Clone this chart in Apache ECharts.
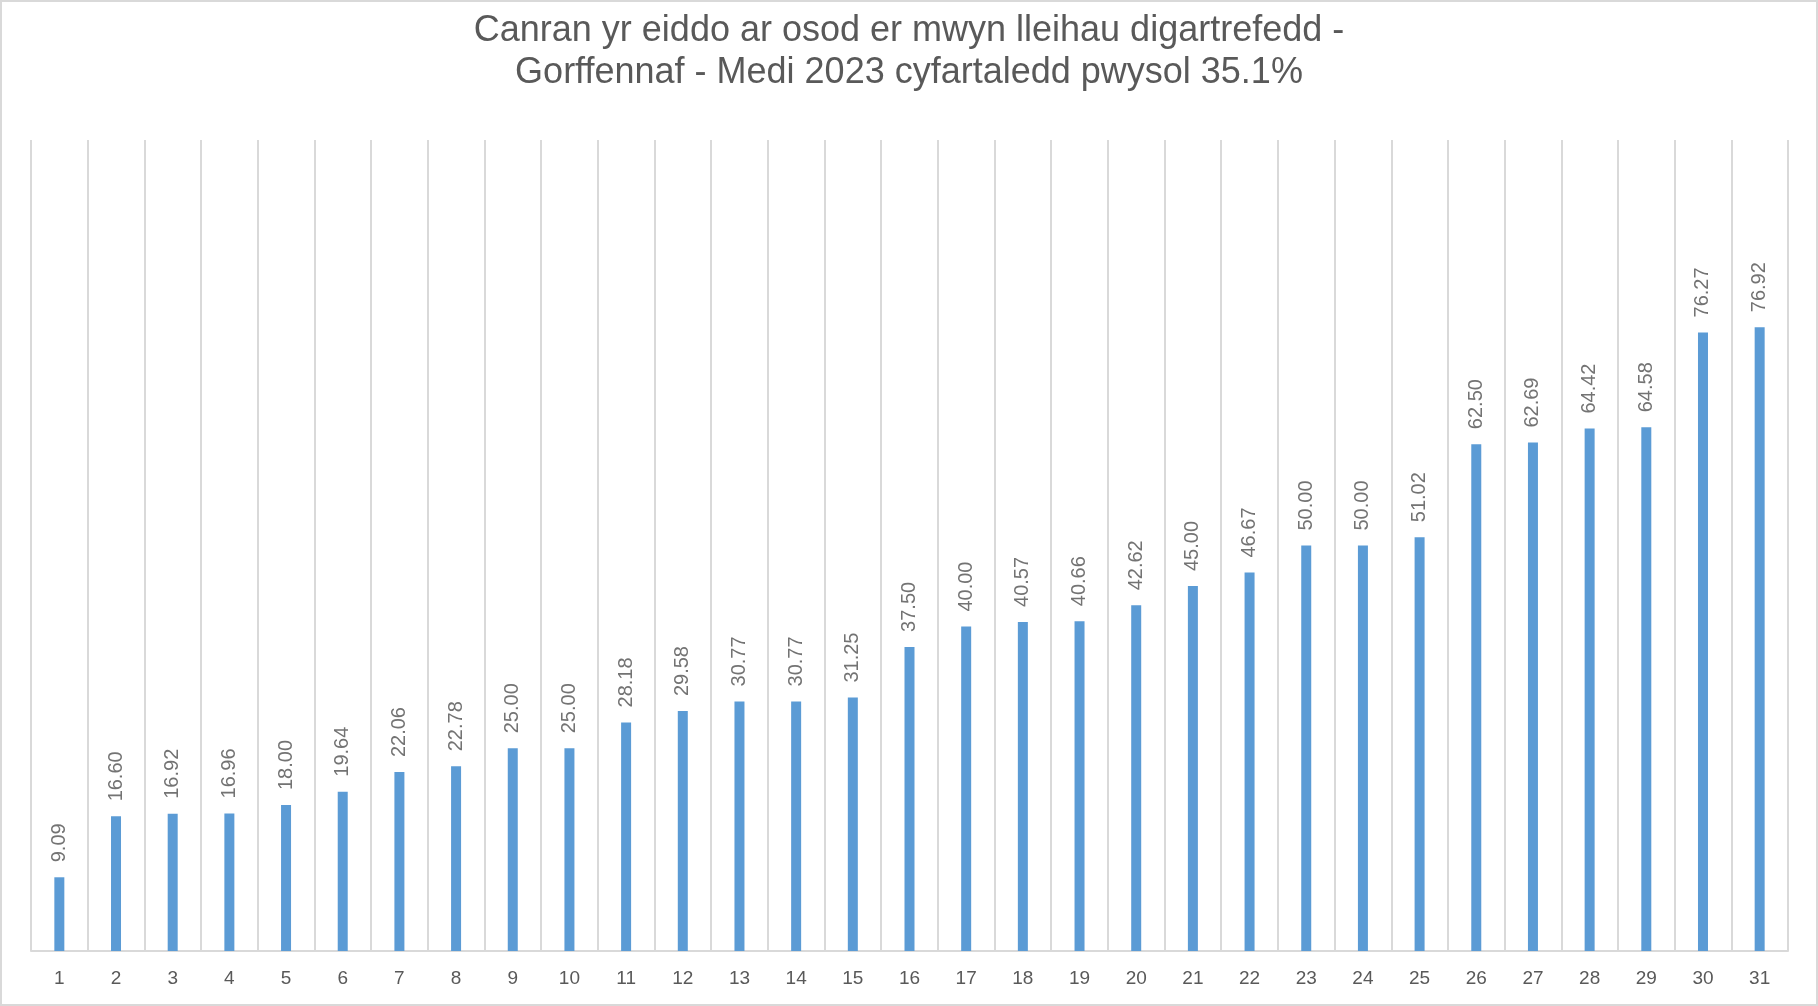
<!DOCTYPE html>
<html>
<head>
<meta charset="utf-8">
<script src="https://cdn.jsdelivr.net/npm/echarts@6/dist/echarts.min.js"></script>
<style>
  html, body { margin: 0; padding: 0; background: #fff; }
  #chart {
    width: 1818px;
    height: 1006px;
    box-sizing: border-box;
    border: 2px solid #d9d9d9;
  }
</style>
</head>
<body>
<div id="chart"></div>
<script>
// data
const categories = ['1', '2', '3', '4', '5', '6', '7', '8', '9', '10', '11', '12', '13', '14', '15', '16',
  '17', '18', '19', '20', '21', '22', '23', '24', '25', '26', '27', '28', '29', '30', '31'];
const values = [9.09, 16.60, 16.92, 16.96, 18.00, 19.64, 22.06, 22.78, 25.00, 25.00, 28.18, 29.58,
  30.77, 30.77, 31.25, 37.50, 40.00, 40.57, 40.66, 42.62, 45.00, 46.67, 50.00, 50.00, 51.02,
  62.50, 62.69, 64.42, 64.58, 76.27, 76.92];
const titleLines = [
  'Canran yr eiddo ar osod er mwyn lleihau digartrefedd -',
  'Gorffennaf - Medi 2023 cyfartaledd pwysol 35.1%'
];

const myChart = echarts.init(document.getElementById('chart'));

const option = {
  animation: false,
  textStyle: { fontFamily: 'Liberation Sans, Arial, sans-serif' },
  title: {
    text: titleLines.join('\n'),
    left: 'center',
    top: 3,
    textStyle: {
      color: '#595959',
      fontSize: 36,
      fontWeight: 'normal',
      lineHeight: 42
    }
  },
  grid: {
    left: 29,
    right: 28,
    top: 138,
    bottom: 53
  },
  xAxis: {
    type: 'category',
    data: categories,
    axisLine: { lineStyle: { color: '#d9d9d9', width: 2 } },
    axisTick: { show: false },
    axisLabel: { color: '#595959', fontSize: 19, margin: 18 },
    splitLine: { show: true, lineStyle: { color: '#d9d9d9', width: 2 } }
  },
  yAxis: {
    type: 'value',
    min: 0,
    max: 100,
    show: false,
    splitLine: { show: false }
  },
  series: [{
    type: 'bar',
    data: values,
    barWidth: 10,
    itemStyle: { color: '#5b9bd5' },
    label: {
      show: true,
      position: 'top',
      rotate: 90,
      distance: 15,
      align: 'left',
      verticalAlign: 'middle',
      color: '#737373',
      fontSize: 20,
      formatter: (p) => p.value.toFixed(2)
    }
  }]
};

myChart.setOption(option);
</script>
</body>
</html>
